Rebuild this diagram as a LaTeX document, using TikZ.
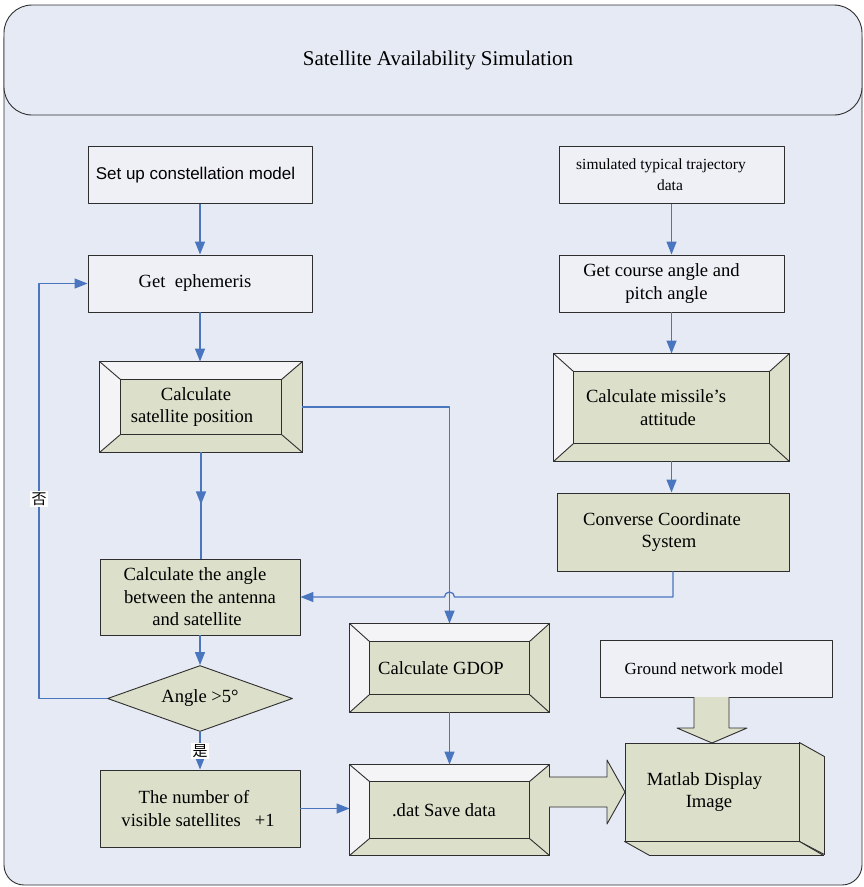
\documentclass[tikz,border=0pt]{standalone}
\usepackage{fontspec}
\setmainfont{Liberation Serif}
\newfontfamily\arialfont{Liberation Sans}
\newfontfamily\cjk{Noto Sans CJK SC}
\usetikzlibrary{arrows.meta,shapes.geometric}

\definecolor{pagebg}{HTML}{E6EAF4}
\definecolor{plainfill}{HTML}{EEF0F6}
\definecolor{panelgreen}{HTML}{DCDFC9}
\definecolor{facewhite}{HTML}{F4F4F6}
\definecolor{flowblue}{HTML}{4A76C0}
\definecolor{edgegray}{HTML}{2E2E2E}

% raised frame drawn round a named box: node, bevel width, bevel height
\newcommand{\bevelfaces}[3]{%
  \fill[facewhite] (#1.north west) -- (#1.north east)
    -- ([shift={(-#2,#3)}]#1.north east) -- ([shift={(#2,#3)}]#1.north west)
    -- ([shift={(#2,-#3)}]#1.south west) -- (#1.south west) -- cycle;
  \draw[boxline] (#1.north west) rectangle (#1.south east);
  \draw[boxline] ([shift={(#2,#3)}]#1.north west) rectangle ([shift={(-#2,-#3)}]#1.south east);
  \draw[boxline] (#1.north west) -- ([shift={(#2,#3)}]#1.north west);
  \draw[boxline] (#1.north east) -- ([shift={(-#2,#3)}]#1.north east);
  \draw[boxline] (#1.south west) -- ([shift={(#2,-#3)}]#1.south west);
  \draw[boxline] (#1.south east) -- ([shift={(-#2,-#3)}]#1.south east);
}
% pushes a centred line to the left
\newcommand{\lft}[1]{\hspace*{#1pt}}

\begin{document}
\begin{tikzpicture}[x=1pt,y=-1pt,line join=round,
  boxline/.style={draw=edgegray,line width=0.9pt},
  plainbox/.style={boxline,fill=plainfill,rectangle,align=center,inner sep=0pt,
    font=\fontsize{18.6}{22.5}\selectfont},
  greenbox/.style={plainbox,fill=panelgreen},
  decision/.style={boxline,fill=panelgreen,diamond,inner sep=0pt,aspect=2.8,
    minimum width=185,minimum height=66,font=\fontsize{18.6}{22.5}\selectfont},
  flow/.style={draw=flowblue,line width=1.3pt,-{Triangle[length=13pt,width=10pt]}},
  link/.style={draw=flowblue,line width=1.3pt},
  tag/.style={fill=white,inner sep=1.5pt,font=\cjk\fontsize{15}{15}\selectfont},
  blockarrow/.style={boxline,fill=panelgreen}]
  \useasboundingbox (0,0) rectangle (863,887);

  % Outer frame and heading band
  \draw[boxline,fill=pagebg,rounded corners=20pt] (4,20) rectangle (862,885);
  \draw[boxline,fill=pagebg,rounded corners=28pt] (4,5) rectangle (862,115);
  \node[font=\fontsize{21}{24}\selectfont] (title) at (438,60) {Satellite Availability Simulation};

  % Left column: constellation side
  \node[plainbox,minimum width=224,minimum height=57,font=\arialfont\fontsize{17}{20}\selectfont]
    (setup) at (200,175) {Set up constellation model\lft{9}};
  \node[plainbox,minimum width=224,minimum height=57] (ephem) at (200,283.5) {Get \ ephemeris\lft{10}};
  \node[greenbox,minimum width=202,minimum height=90] (satpos) at (201,407)
    {Calculate\lft{10}\\satellite position\lft{18}};
  \bevelfaces{satpos}{21}{18}
  \node[greenbox,minimum width=200,minimum height=76] (angle) at (200,597)
    {Calculate the angle\lft{10}\\between the antenna\\and satellite\lft{6}};
  \node[decision] (decide) at (200,698.5) {Angle >5°};
  \node[greenbox,minimum width=200,minimum height=77] (count) at (200,808.5)
    {The number of\lft{12}\\visible satellites \ \ +1\lft{4}};

  % Right column: trajectory side
  \node[plainbox,minimum width=225,minimum height=57,font=\fontsize{15.5}{21}\selectfont]
    (traj) at (671.5,175) {simulated typical trajectory\lft{21}\\data\lft{3}};
  \node[plainbox,minimum width=225,minimum height=57] (course) at (671.5,283.5)
    {Get course angle and\lft{20}\\pitch angle\lft{10}};
  \node[greenbox,minimum width=235,minimum height=107] (attitude) at (671.5,407.5)
    {Calculate missile’s\lft{31}\\attitude\lft{7}};
  \bevelfaces{attitude}{20}{18}
  \node[greenbox,minimum width=232,minimum height=78] (convert) at (673,532)
    {Converse Coordinate\lft{22}\\System\lft{8}};

  % Middle: GDOP and output
  \node[greenbox,minimum width=199,minimum height=88] (gdop) at (449.5,668) {Calculate GDOP\lft{17}};
  \bevelfaces{gdop}{20}{18}
  \node[greenbox,minimum width=199,minimum height=90] (savedat) at (449.5,810) {.dat Save data\lft{11}};
  \bevelfaces{savedat}{20}{17}
  \node[plainbox,minimum width=232,minimum height=57,font=\fontsize{17}{20}\selectfont]
    (ground) at (716,668.5) {Ground network model\lft{24}};

  % Display box with its depth faces
  \node[greenbox,minimum width=174,minimum height=98] (matlab) at (712,792)
    {Matlab Display\lft{15}\\Image\lft{6}};
  \filldraw[blockarrow] (matlab.north east) -- ++(25,14) -- ++(0,98) -- (matlab.south east) -- cycle;
  \filldraw[blockarrow] (matlab.south west) -- ++(25,14) -- ++(174,0) -- (matlab.south east) -- cycle;

  % Wide arrows into the display box
  \filldraw[blockarrow] (694,697) -- (694,728) -- (677,728) -- (712,743)
    -- (747,728) -- (729,728) -- (729,697);
  \filldraw[blockarrow] (549,777) -- (607,777) -- (607,760) -- (625,792)
    -- (607,824) -- (607,807) -- (549,807);

  % Connectors, left column
  \draw[flow] (setup) -- (ephem);
  \draw[flow] (ephem) -- (ephem.south |- satpos.north);
  \draw[link] (satpos.south) -- (satpos.south |- angle.north);
  \draw[flow] (satpos.south) -- ++(0,52);
  \draw[flow] (angle) -- (decide);
  \draw[flow] (decide.south) -- (count.north) node[tag,midway] {是};
  \draw[flow] (decide.west) -- ++(-68,0) |- (ephem.west) node[tag,pos=0.24] {否};
  \draw[flow] (count.east) -- (count.east -| savedat.west);

  % Connectors, right column
  \draw[flow] (traj) -- (course);
  \draw[flow] (course) -- (course.south |- attitude.north);
  \draw[flow] (attitude.south) -- (attitude.south |- convert.north);

  % Cross links, with a hop where they meet
  \draw[flow] (satpos.east) -| (gdop.north);
  \coordinate (hop) at (gdop.north |- angle.east);
  \draw[flow] (convert.south) -- (convert.south |- angle.east) -- ([xshift=5pt]hop)
    arc[start angle=0,end angle=180,radius=5pt] -- (angle.east);
  \draw[flow] (gdop) -- (savedat);
\end{tikzpicture}
\end{document}
